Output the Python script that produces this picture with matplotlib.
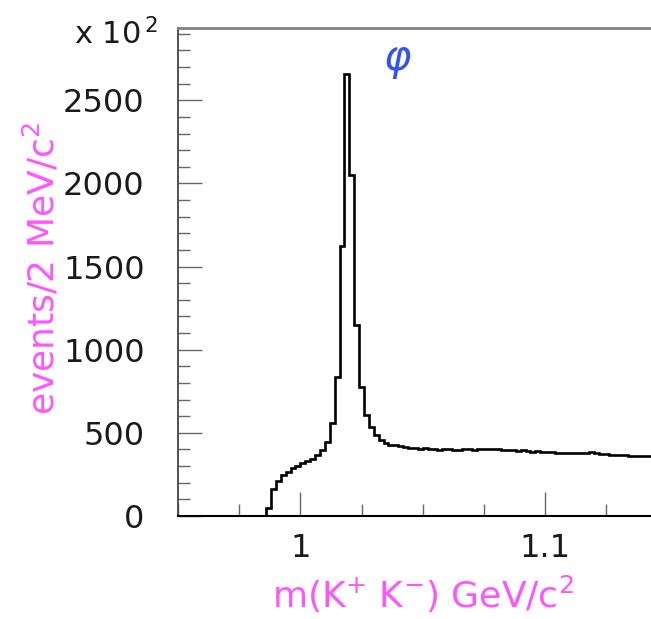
import numpy as np
import matplotlib
matplotlib.use("Agg")
import matplotlib.pyplot as plt
from matplotlib.ticker import MultipleLocator, FixedLocator

# K+K- invariant mass, 2 MeV bins starting at 0.950 GeV
bin_lo = 0.950
bin_w = 0.002
counts_below = [0] * 18                     # 0.950 - 0.984, below threshold
counts_peak = [46, 160, 212, 247, 267, 287, 301, 317, 328, 340, 367, 397,
               447, 558, 838, 1621, 2660, 2053, 1150, 778, 608, 538, 488,
               458, 440, 430, 425]          # 0.986 - 1.038
counts_tail = [418, 415, 410, 410, 405, 407, 403, 405, 399, 400, 402, 398,
               396, 400, 401, 399, 401, 404, 402, 405, 400, 398, 399, 394,
               392, 394, 390, 387, 389, 385, 383, 382, 380, 381, 378, 379,
               380, 378, 381, 383, 378, 372, 370, 369, 367, 366, 365, 360,
               362, 363, 360, 358, 357, 356, 355]   # 1.040 - 1.148

counts = np.array(counts_below + counts_peak + counts_tail, dtype=float)
edges = bin_lo + bin_w * np.arange(len(counts) + 1)

y_major = [0, 500, 1000, 1500, 2000, 2500]
x_major = [1.0, 1.1]
x_labels = ["1", "1.1"]

pink = "#ff55ff"
tick_gray = "#666666"
plt.rcParams["font.family"] = ["DejaVu Sans"]

fig = plt.figure(figsize=(6.51, 6.19), dpi=100)
W, H = 651, 619
ax = fig.add_axes([178 / W, 103 / H, 489.5 / W, 488 / H])

ax.stairs(counts, edges, color="black", linewidth=1.9, baseline=0)

ax.set_xlim(0.95, 1.15)
ax.set_ylim(0, 2935)

ax.xaxis.set_major_locator(FixedLocator(x_major))
ax.set_xticklabels(x_labels)
ax.xaxis.set_minor_locator(MultipleLocator(0.025))
ax.yaxis.set_major_locator(FixedLocator(y_major))
ax.set_yticklabels([str(v) for v in y_major])
ax.yaxis.set_minor_locator(MultipleLocator(100))

ax.tick_params(which="both", direction="in", color=tick_gray, width=1.0,
               labelsize=23, labelcolor="#1a1a1a")
ax.tick_params(which="major", length=17)
ax.tick_params(which="minor", length=8.5)
ax.tick_params(axis="y", which="major", pad=24)
ax.tick_params(axis="x", which="major", pad=12)

ax.spines["right"].set_visible(False)
ax.spines["left"].set_color("#444444")
ax.spines["left"].set_linewidth(1.3)
ax.spines["top"].set_color("#808080")
ax.spines["top"].set_linewidth(2.0)
ax.spines["bottom"].set_color("black")
ax.spines["bottom"].set_linewidth(1.5)

# axis titles and exponent
fig.text(42 / W, 1 - 268 / H, r"events/2 MeV/c$^{2}$", rotation=90,
         ha="center", va="center", color=pink, fontsize=26)
fig.text(423 / W, 1 - 594 / H, r"m(K$^{+}$ K$^{-}$) GeV/c$^{2}$",
         ha="center", va="center", color=pink, fontsize=26)
fig.text(74 / W, 1 - 34 / H, r"x 10$^{\,2}$", ha="left", va="center",
         color="#1a1a1a", fontsize=22)

ax.text(1.0395, 2745, r"$\varphi$", color="#3355ee", fontsize=30,
        ha="center", va="center")

fig.savefig("out.png", dpi=100)
